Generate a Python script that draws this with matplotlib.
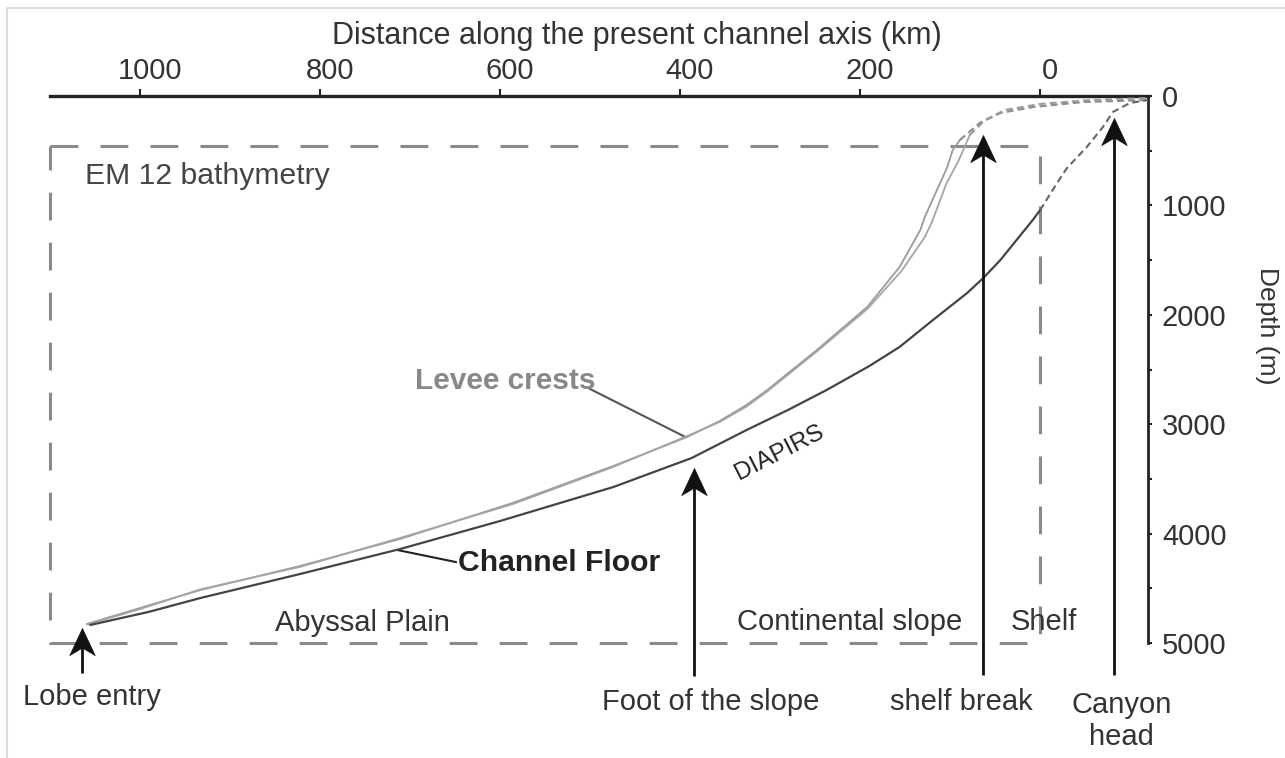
import numpy as np
import matplotlib
matplotlib.use("Agg")
import matplotlib.pyplot as plt
from matplotlib.path import Path
from matplotlib.transforms import ScaledTranslation

plt.rcParams['font.family'] = ['Liberation Sans', 'DejaVu Sans']
plt.rcParams['lines.scale_dashes'] = False

# channel floor, inside the EM12 box (km along axis, depth m)
floor_km = [1055, 990, 933, 822, 711, 600, 474, 387, 326, 280, 237, 190, 156, 119, 81, 63, 44, 26, 8, 0]
floor_depth = [4835, 4715, 4589, 4369, 4141, 3885, 3574, 3309, 3053, 2870, 2687, 2470, 2294, 2048, 1801, 1664, 1499, 1316, 1133, 1045]
# channel floor, extrapolated up to the canyon head (dashed)
floor_ext_km = [0, -19, -30, -52, -70, -81, -100, -120]
floor_ext_depth = [1045, 795, 658, 466, 283, 146, 64, 37]

# levee crests (two levees)
levee_a_km = [1059, 1000, 933, 822, 711, 586, 474, 392, 356, 326, 303, 248, 192, 156, 133, 128, 103, 97, 89]
levee_a_depth = [4826, 4680, 4516, 4296, 4049, 3720, 3382, 3117, 2971, 2824, 2687, 2322, 1929, 1563, 1225, 1106, 649, 494, 402]
levee_b_km = [1058, 1000, 933, 822, 711, 585, 474, 392, 356, 326, 303, 248, 192, 154, 128, 120, 104, 91, 84, 78]
levee_b_depth = [4830, 4690, 4510, 4304, 4040, 3728, 3390, 3108, 2980, 2838, 2700, 2335, 1948, 1600, 1290, 1150, 800, 600, 470, 356]
levee_a_ext_km = [89, 67, 44, 8, -48, -120]
levee_a_ext_depth = [402, 247, 155, 101, 55, 37]
levee_b_ext_km = [78, 61, 39, 0, -56, -120]
levee_b_ext_depth = [356, 219, 128, 73, 37, 18]

# arrows: position, tip depth, tail depth
arrow_km = [1064, 384, 63, -82]
arrow_tip = [4863, 3400, 356, 200]
arrow_tail = [5274, 5300, 5290, 5290]
arrow_labels = ["Lobe entry", "Foot of the slope", "shelf break", "Canyon\nhead"]
label_km = [1053, 366, 87, -91]
label_depth = [5494, 5539, 5539, 5713]

# EM12 box extent
box_km = [1100, 0]
box_depth = [460, 5000]

x_ticks = [0, 200, 400, 600, 800, 1000]
y_ticks = [0, 1000, 2000, 3000, 4000, 5000]

txt = '#333333'
fig = plt.figure(figsize=(12.85, 7.58), dpi=100)
ax = fig.add_axes([50/1285, 1 - 643/758, 1098/1285, 547/758])
ax.set_xlim(1100, -120)
ax.set_ylim(5000, 0)
ax.patch.set_alpha(0)

for s in ['left', 'bottom']:
    ax.spines[s].set_visible(False)
ax.spines['top'].set_linewidth(2.4)
ax.spines['right'].set_linewidth(2.0)
ax.spines['top'].set_color('#222222')
ax.spines['right'].set_color('#222222')

ax.xaxis.tick_top()
ax.yaxis.tick_right()
ax.set_xticks(x_ticks)
ax.set_yticks(y_ticks)
ax.set_yticks(np.arange(500, 5000, 1000), minor=True)
ax.tick_params(axis='x', direction='out', length=5, width=1.5, pad=3,
               labelsize=21, labelcolor=txt, color='#222222')
ax.tick_params(axis='y', which='both', direction='out', length=3, width=1.5,
               pad=7, labelsize=21, labelcolor=txt, color='#222222')
# top labels sit a little right of their ticks in the original
shift = ScaledTranslation(10/100, 0, fig.dpi_scale_trans)
for lab in ax.get_xticklabels():
    lab.set_transform(lab.get_transform() + shift)

ax.set_xlabel("Distance along the present channel axis (km)", fontsize=22, color=txt)
ax.xaxis.set_label_position('top')
ax.xaxis.set_label_coords((637 - 50) / 1098, (643 - 36) / 547)
ax.xaxis.label.set_va('center')
ax.set_ylabel("Depth (m)", fontsize=19, color=txt, rotation=270)
ax.yaxis.set_label_position('right')
ax.yaxis.set_label_coords((1267 - 50) / 1098, (643 - 326) / 547)
ax.yaxis.label.set_va('center')

# dashed EM12 box
bx = [box_km[0], box_km[1], box_km[1], box_km[0], box_km[0]]
by = [box_depth[0], box_depth[0], box_depth[1], box_depth[1], box_depth[0]]
ax.plot(bx, by, color='#8a8a8a', lw=2.2, dashes=(20, 16), clip_on=False, zorder=1)

# profiles
ax.plot(levee_a_km, levee_a_depth, color='#9a9a9a', lw=1.3, zorder=3)
ax.plot(levee_b_km, levee_b_depth, color='#a5a5a5', lw=1.3, zorder=3)
ax.plot(levee_a_ext_km, levee_a_ext_depth, color='#8a8a8a', lw=1.5, dashes=(5, 3), zorder=3)
ax.plot(levee_b_ext_km, levee_b_ext_depth, color='#9a9a9a', lw=1.5, dashes=(5, 3), zorder=3)
ax.plot(floor_km, floor_depth, color='#444444', lw=1.6, zorder=4)
ax.plot(floor_ext_km, floor_ext_depth, color='#666666', lw=1.5, dashes=(5, 3), zorder=4)

# arrows: shaft plus a notched head marker
head = Path([(0, 0), (-0.47, -1), (0, -0.72), (0.47, -1), (0, 0)],
            [Path.MOVETO, Path.LINETO, Path.LINETO, Path.LINETO, Path.CLOSEPOLY])
ax.vlines(arrow_km, np.array(arrow_tip) + 120, arrow_tail, color='#111111', lw=2.0,
          clip_on=False, zorder=5)
ax.plot(arrow_km, arrow_tip, ls='none', marker=head, ms=39, color='#111111',
        mec='#111111', mew=0.5, clip_on=False, zorder=6)
for lab, km, d in zip(arrow_labels, label_km, label_depth):
    ax.text(km, d, lab, fontsize=21, color=txt, ha='center', va='center',
            linespacing=1.15, clip_on=False)

# region labels
ax.text(753, 4817, "Abyssal Plain", fontsize=21, color=txt, ha='center', va='center')
ax.text(211, 4808, "Continental slope", fontsize=21, color=txt, ha='center', va='center')
ax.text(-4, 4808, "Shelf", fontsize=21, color=txt, ha='center', va='center')
ax.text(1061, 731, "EM 12 bathymetry", fontsize=21.7, color='#444444', ha='left', va='center')

# profile labels
ax.plot([714, 649], [4150, 4260], color='#222222', lw=1.5)
ax.text(647, 4269, "Channel Floor", fontsize=21.7, fontweight='bold', color='#222222',
        ha='left', va='center')
ax.plot([500, 394], [2678, 3117], color='#555555', lw=1.5)
ax.text(594, 2605, "Levee crests", fontsize=21.5, fontweight='bold', color='#888888',
        ha='center', va='center')
ax.text(289, 3263, "DIAPIRS", fontsize=17.5, color='#222222', ha='center', va='center',
        rotation=27)

# light scan border
fig.add_artist(plt.Line2D([7/1285, 1], [1 - 8/758, 1 - 8/758], color='#dddddd', lw=1.5))
fig.add_artist(plt.Line2D([7/1285, 7/1285], [0, 1 - 8/758], color='#dddddd', lw=1.5))

fig.savefig("out.png", dpi=100)
